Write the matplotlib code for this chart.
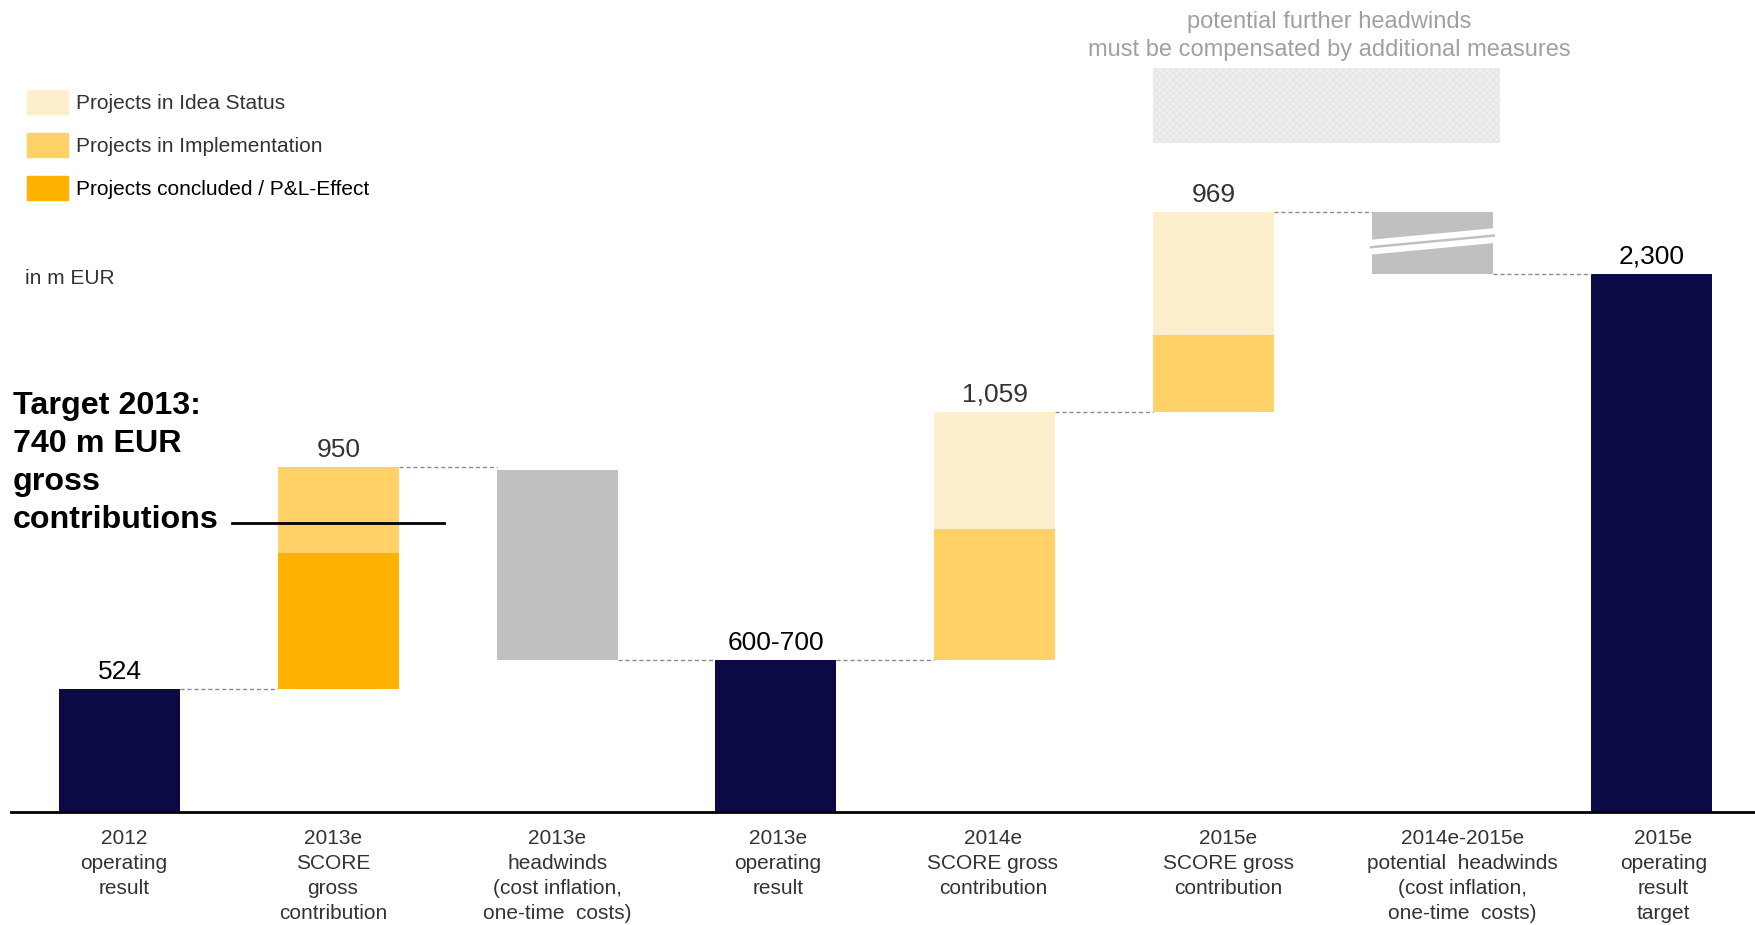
import matplotlib.pyplot as plt
import matplotlib.transforms as mtransforms
from matplotlib.patches import Patch, Polygon, Rectangle

plt.rcParams['font.family'] = ['Liberation Sans', 'DejaVu Sans']

# data (m EUR; the source is not drawn fully to scale)
categories = ['2012\noperating\nresult',
              '2013e\nSCORE\ngross\ncontribution',
              '2013e\nheadwinds\n(cost inflation,\none-time  costs)',
              '2013e\noperating\nresult',
              '2014e\nSCORE gross\ncontribution',
              '2015e\nSCORE gross\ncontribution',
              '2014e-2015e\npotential  headwinds\n(cost inflation,\none-time  costs)',
              '2015e\noperating\nresult\ntarget']
result_2012 = 524
score13_concluded = 583
score13_impl = 367
headwinds13 = (650, 1460)
result_2013 = 650
score14_impl = 560
score14_idea = 499
score15_impl = 330
score15_idea = 526
headwinds15 = (2300, 2565)
target_2015 = 2300
value_labels = ['524', '950', '', '600-700', '1,059', '969', '', '2,300']
label_colors = ['black', '#333333', '', 'black', '#333333', '#333333', '', 'black']
further_headwinds = (2860, 3180)

navy = '#0b0a45'
idea_c = '#feefcc'
impl_c = '#ffd166'
done_c = '#ffb300'
grey = '#c0c0c0'
w = 0.553

fig = plt.figure(figsize=(17.56, 9.25), dpi=100)
ax = fig.add_axes([11 / 1756, 113 / 925, 1745 / 1756, 812 / 925])
ax.set_xlim(-0.496, 7.479)
ax.set_ylim(0, 3471)
for s in ['top', 'right', 'left']:
    ax.spines[s].set_visible(False)
ax.spines['bottom'].set_linewidth(2)
ax.set_yticks([])

# bars
ax.bar(0, result_2012, w, color=navy)
ax.bar(1, score13_concluded, w, bottom=result_2012, color=done_c)
ax.bar(1, score13_impl, w, bottom=result_2012 + score13_concluded, color=impl_c)
ax.bar(2, headwinds13[1] - headwinds13[0], w, bottom=headwinds13[0], color=grey)
ax.bar(3, result_2013, w, color=navy)
ax.bar(4, score14_impl, w, bottom=result_2013, color=impl_c)
top14 = result_2013 + score14_impl + score14_idea
ax.bar(4, score14_idea, w, bottom=result_2013 + score14_impl, color=idea_c)
ax.bar(5, score15_impl, w, bottom=top14, color=impl_c)
ax.bar(5, score15_idea, w, bottom=top14 + score15_impl, color=idea_c)
ax.bar(6, headwinds15[1] - headwinds15[0], w, bottom=headwinds15[0], color=grey)
ax.bar(7, target_2015, w, color=navy)

# break mark in the potential headwinds bar
h = headwinds15[1] - headwinds15[0]
x0, x1 = 6 - w / 2 - 0.01, 6 + w / 2 + 0.01
yl = headwinds15[0] + 0.43 * h
yr = headwinds15[0] + 0.62 * h
band = 0.12 * h
ax.add_patch(Polygon([(x0, yl - band), (x1, yr - band), (x1, yr + band), (x0, yl + band)],
                     closed=True, facecolor='white', edgecolor='none', zorder=3))
stripe = 0.02 * h
ax.add_patch(Polygon([(x0, yl - stripe), (x1, yr - stripe), (x1, yr + stripe), (x0, yl + stripe)],
                     closed=True, facecolor=grey, edgecolor='none', zorder=4))

# dashed connectors
tops = [result_2012, result_2012 + score13_concluded + score13_impl, headwinds13[0],
        result_2013, top14, top14 + score15_impl + score15_idea, target_2015]
for i, t in enumerate(tops):
    ax.plot([i + w / 2, i + 1 - w / 2], [t, t], color='#8c8c8c', lw=1,
            dashes=(3, 2), zorder=1)

# value labels
bar_tops = [result_2012, tops[1], 0, result_2013, top14, tops[5], 0, target_2015]
for i, (lab, c) in enumerate(zip(value_labels, label_colors)):
    if lab:
        ax.annotate(lab, (i, bar_tops[i]), xytext=(0, 7.5), textcoords='offset points',
                    ha='center', va='baseline', fontsize=19, color=c)

ax.set_xticks(range(len(categories)))
ax.set_xticklabels(categories, fontsize=15, color='#333333', linespacing=1.4)
ax.tick_params(axis='x', length=0, pad=12.5)
# the source labels sit a little off the bar centres
shifts = [3.2, -4, 0, 1.6, -1.4, 10.5, 21.6, 8.9]
for lab, dx in zip(ax.get_xticklabels(), shifts):
    lab.set_transform(lab.get_transform() +
                      mtransforms.ScaledTranslation(dx / 72, 0, fig.dpi_scale_trans))

# further headwinds box
ax.add_patch(Rectangle((5 - w / 2, further_headwinds[0]), 6.31 - (5 - w / 2),
                       further_headwinds[1] - further_headwinds[0],
                       facecolor='#efefef', edgecolor='#e6e6e6', hatch='xxxxx',
                       lw=0, clip_on=False))
fig.text(1329 / 1756, 1 - 36 / 925,
         'potential further headwinds\nmust be compensated by additional measures',
         ha='center', va='center', fontsize=17, color='#a0a0a0', linespacing=1.36)

# legend
handles = [Patch(color=idea_c), Patch(color=impl_c), Patch(color=done_c)]
leg = fig.legend(handles, ['Projects in Idea Status', 'Projects in Implementation',
                           'Projects concluded / P&L-Effect'],
                 loc='upper left', bbox_to_anchor=(27 / 1756, 1 - 90 / 925),
                 frameon=False, fontsize=15, handlelength=1.96, handleheight=1.39,
                 labelspacing=0.92, handletextpad=0.4, borderpad=0, borderaxespad=0)
for t, c in zip(leg.get_texts(), ['#333333', '#333333', 'black']):
    t.set_color(c)

fig.text(25 / 1756, 1 - 279 / 925, 'in m EUR', ha='left', va='center',
         fontsize=15, color='#333333')

fig.text(13 / 1756, 1 - 463 / 925, 'Target 2013:\n740 m EUR\ngross\ncontributions',
         ha='left', va='center', fontsize=23.2, fontweight='bold', linespacing=1.34)
fig.add_artist(plt.Line2D([232 / 1756, 444 / 1756], [1 - 523 / 925, 1 - 523 / 925],
                          color='black', lw=2))

fig.savefig('out.png', dpi=100)
